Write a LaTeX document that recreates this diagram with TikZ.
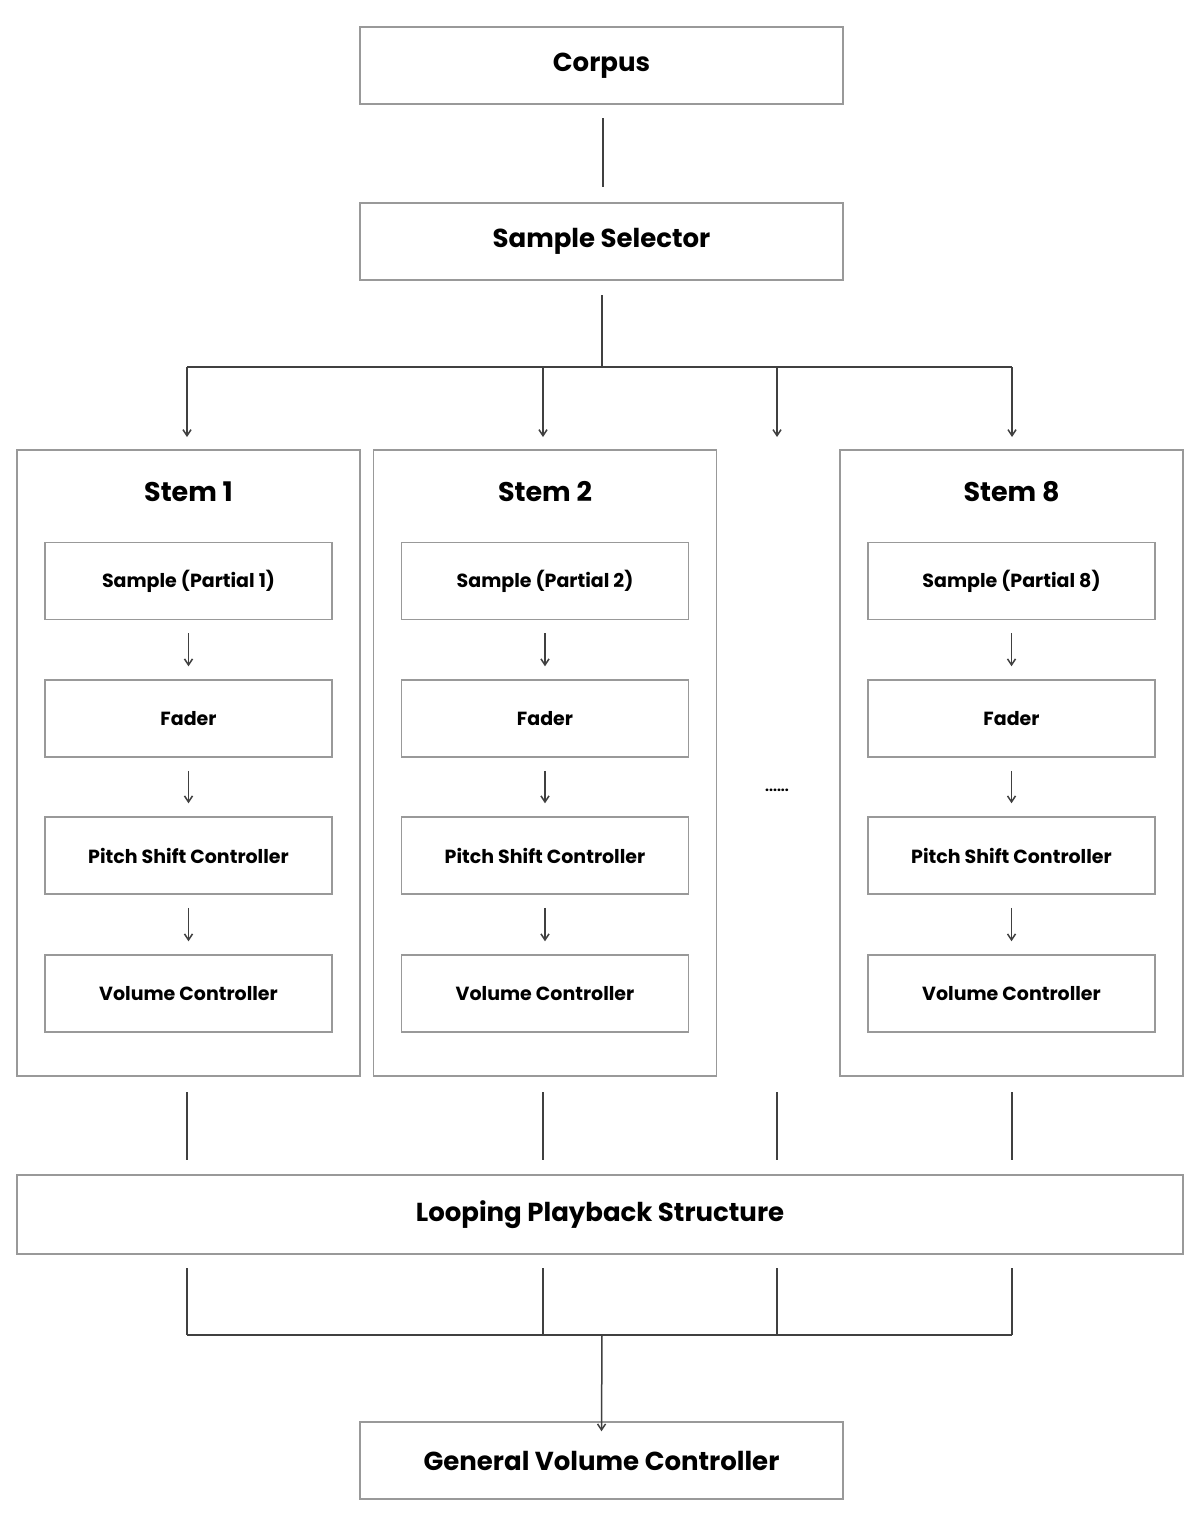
\documentclass[tikz,border=0pt]{standalone}
\usepackage{fontspec}
\setmainfont{Poppins}
\usetikzlibrary{arrows.meta}
\begin{document}
\begin{tikzpicture}[x=1pt,y=-1pt,
  box/.style={draw=black!40,line width=1.5pt,inner sep=0pt,font=\bfseries},
  big/.style={box,minimum width=483pt,minimum height=77pt,font=\fontsize{26}{30}\selectfont\bfseries},
  stem/.style={draw=black!40,line width=1.5pt,minimum width=343pt,minimum height=626pt,inner sep=0pt},
  inner/.style={box,minimum width=287pt,minimum height=77pt,font=\fontsize{19}{22}\selectfont\bfseries},
  ttl/.style={font=\fontsize{27}{30}\selectfont\bfseries},
  ln/.style={draw=black!75,line width=1.5pt},
  arr/.style={ln,-{Straight Barb[length=6pt,width=8pt]}}]
\useasboundingbox (0,0) rectangle (1200,1527);
\node[big] (corpus) at (601.5,65.5) {Corpus};
\node[big] (sel) at (601.5,241.5) {Sample Selector};
\draw[ln] (603,118) -- (603,187);
\coordinate (s0) at (602,295);
\coordinate (j0) at (602,367);
\draw[ln] (s0) -- (j0);
\draw[ln] (187,367) -- (1012,367);
\foreach \n/\x/\xs/\lab in {1/187/188.5/1,2/543/545/2,8/1012/1011.5/8}{
  \node[stem] (stem\n) at (\xs,763) {};
  \node[ttl] (t\n) at (\xs,492) {Stem \lab};
  \draw[arr] (\x,367) -- (\x,437);
  \node[inner] (a\n) at (\xs,581) {Sample (Partial \lab)};
  \node[inner] (b\n) at (\xs,718.5) {Fader};
  \node[inner] (c\n) at (\xs,855.5) {Pitch Shift Controller};
  \node[inner] (d\n) at (\xs,993.5) {Volume Controller};
  \draw[arr] ([yshift=-13pt]a\n.south) -- ([yshift=13pt]b\n.north);
  \draw[arr] ([yshift=-13pt]b\n.south) -- ([yshift=13pt]c\n.north);
  \draw[arr] ([yshift=-13pt]c\n.south) -- ([yshift=13pt]d\n.north);
  \draw[ln] (\x,1092) -- (\x,1160);
  \draw[ln] (\x,1268) -- (\x,1335);
}
\draw[arr] (777,367) -- (777,437);
\node[font=\bfseries\fontsize{14}{16}\selectfont] (dots) at (777,790) {......};
\draw[ln] (777,1092) -- (777,1160);
\draw[ln] (777,1268) -- (777,1335);
\node[box,minimum width=1166pt,minimum height=79pt,font=\fontsize{26}{30}\selectfont\bfseries] (loop) at (600,1214.5) {Looping Playback Structure};
\draw[ln] (187,1335) -- (1012,1335);
\node[big] (gen) at (601.5,1460.5) {General Volume Controller};
\coordinate (j1) at (602,1335);
\draw[arr] (j1) -- ([yshift=-10pt]gen.north);
\end{tikzpicture}
\end{document}
